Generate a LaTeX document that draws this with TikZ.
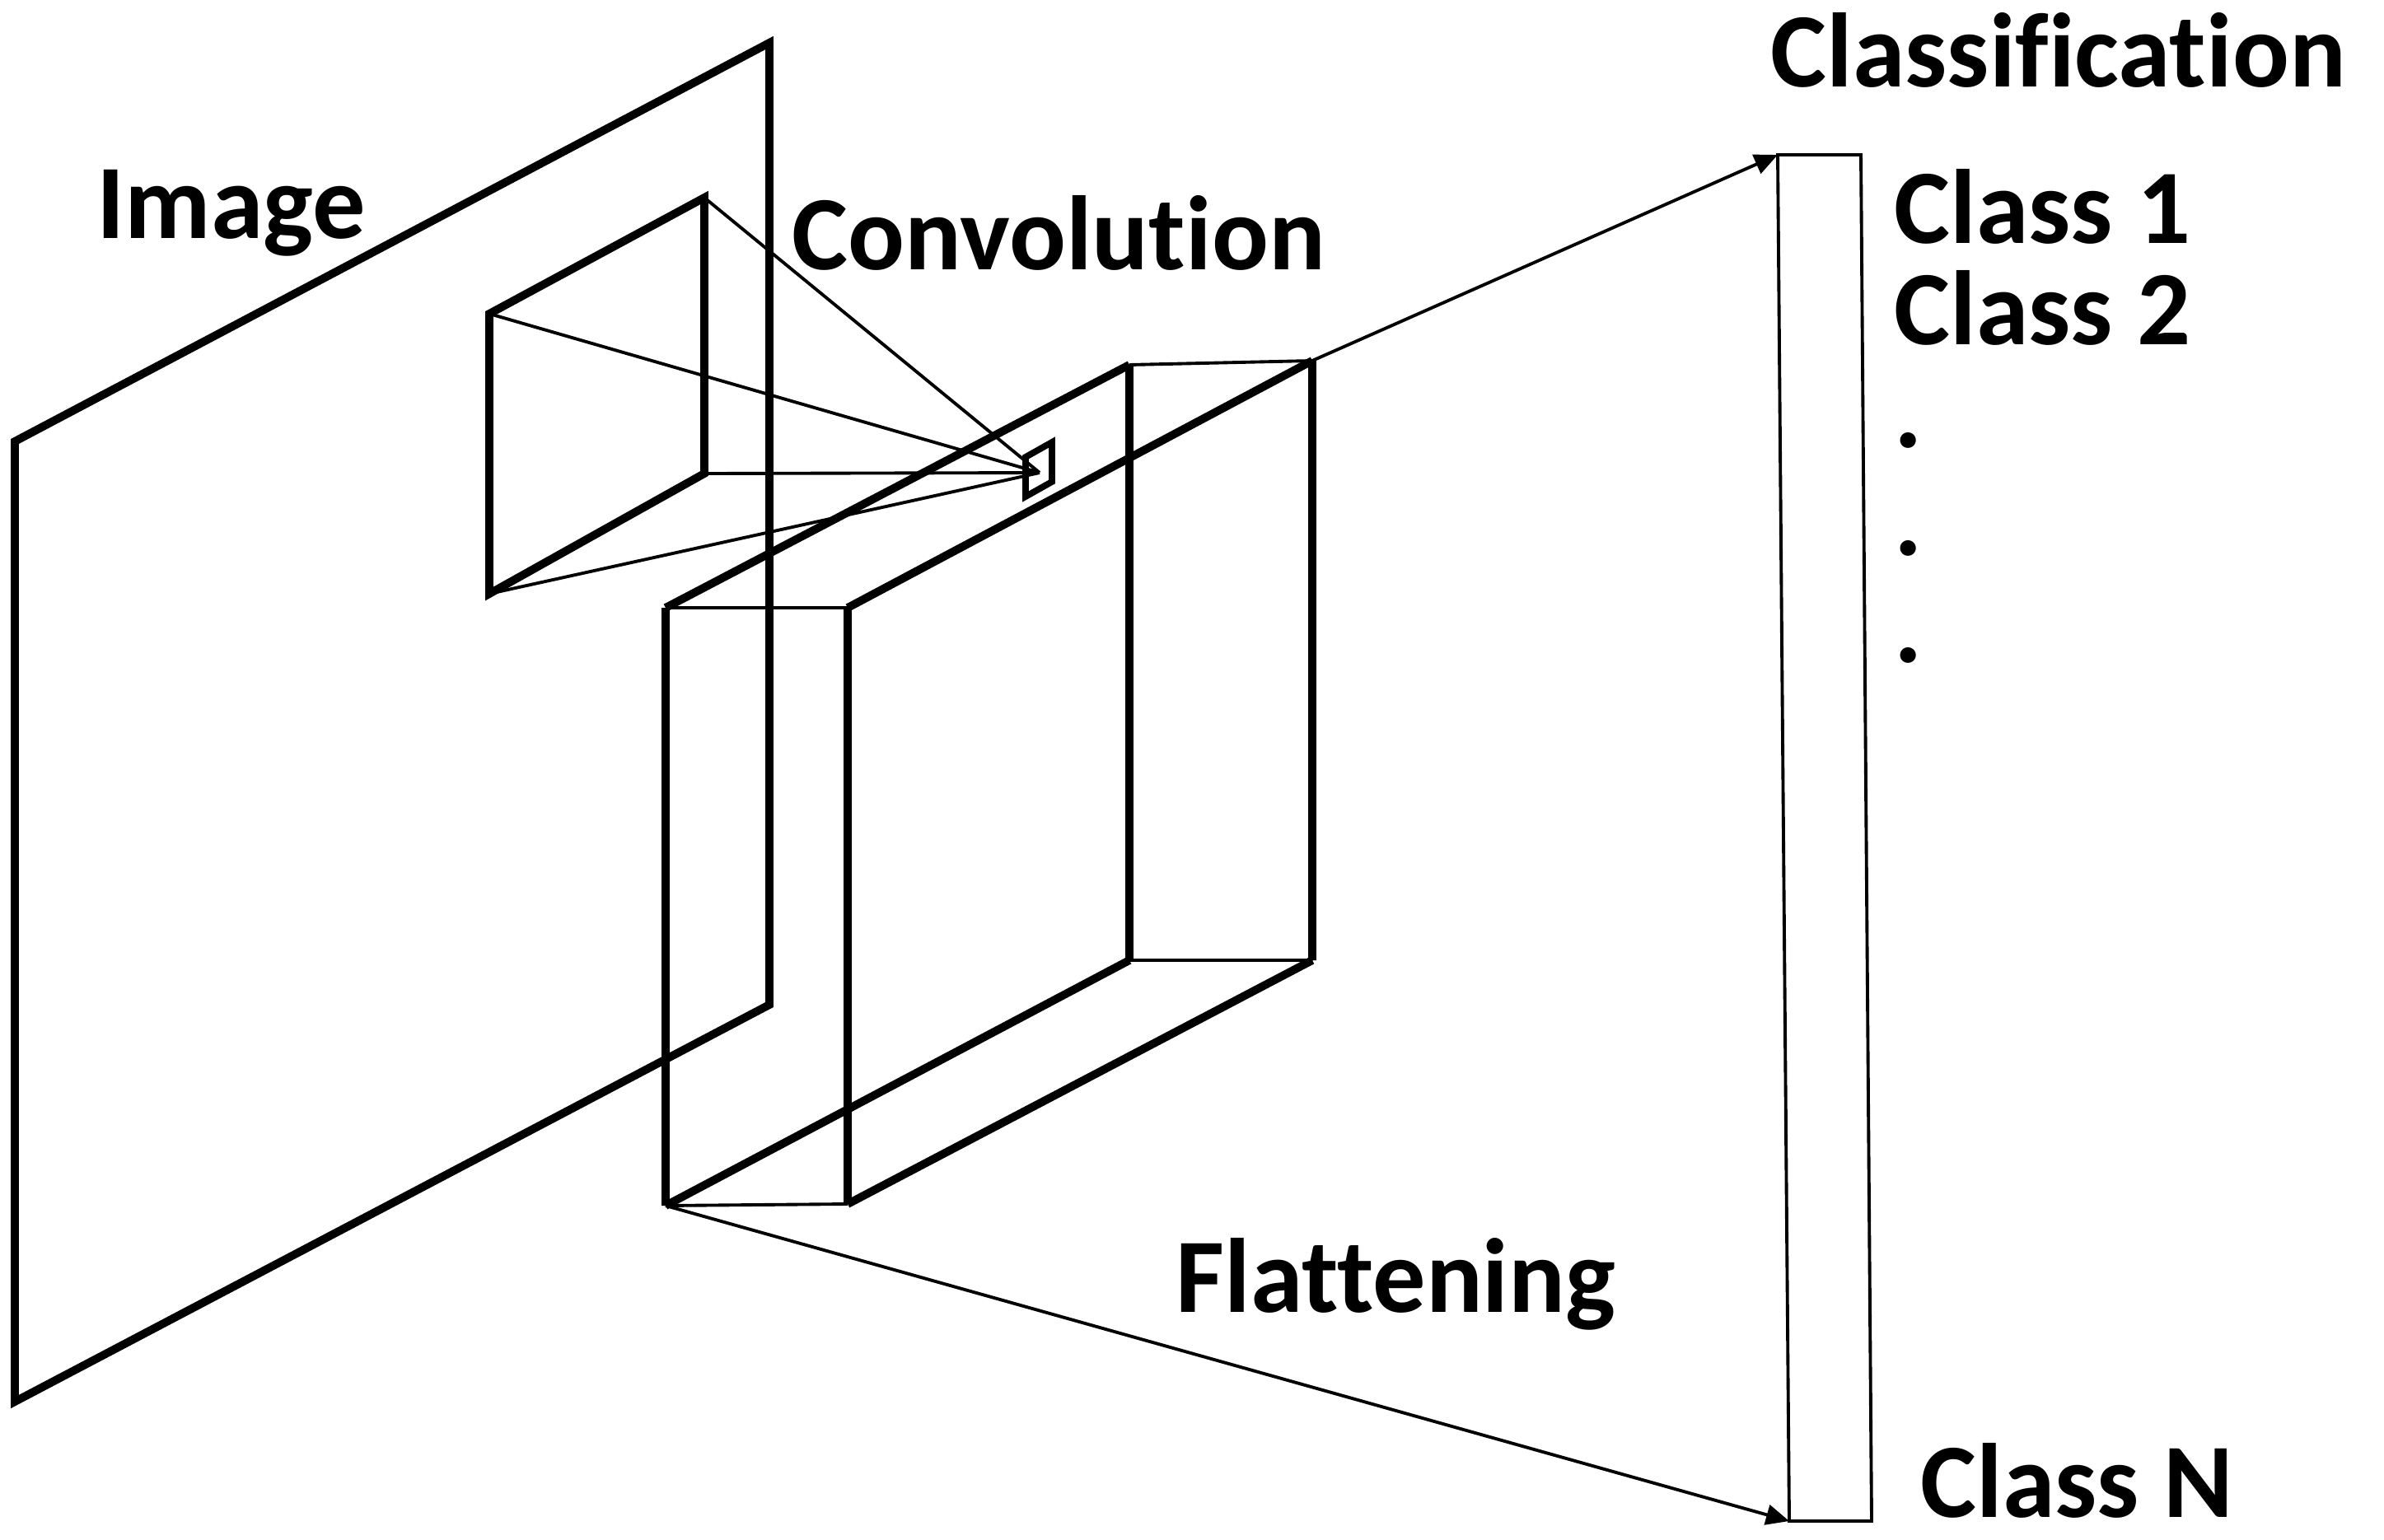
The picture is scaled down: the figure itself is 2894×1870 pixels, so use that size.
\documentclass[tikz,border=0pt]{standalone}
\usepackage{fontspec}
\setmainfont{Carlito}[Ligatures={NoCommon,NoRequired,NoContextual}]
\usetikzlibrary{arrows.meta}
\begin{document}
\begin{tikzpicture}[x=0.01cm,y=-0.01cm,
  thickline/.style={line width=2.8pt, line join=miter},
  thinline/.style={line width=1.1pt},
  sqline/.style={line width=2.2pt},
  lbl/.style={font=\fontsize{36.5}{44}\selectfont\bfseries, anchor=base west, inner sep=0pt},
  flow/.style={line width=1.1pt, -{Triangle[length=8pt,width=7pt]}}]
\path[use as bounding box] (0,0) rectangle (2894,1870);
% image plane
\coordinate (I1) at (18,536);
\coordinate (I2) at (934,52);
\coordinate (I3) at (934,1220);
\coordinate (I4) at (18,1702);
% kernel
\coordinate (K1) at (594,381);
\coordinate (K2) at (855,240);
\coordinate (K3) at (855,575);
\coordinate (K4) at (594,721);
% small square
\coordinate (S1) at (1245,555);
\coordinate (S2) at (1277,537);
\coordinate (S3) at (1277,585);
\coordinate (S4) at (1245,603);
\coordinate (P) at (1262,574);
% feature map box
\coordinate (F1) at (808,738);
\coordinate (F2) at (1029,738);
\coordinate (F3) at (1029,1462);
\coordinate (F4) at (808,1464);
\coordinate (G1) at (1371,443);
\coordinate (G2) at (1593,438);
\coordinate (G3) at (1593,1166);
\coordinate (G4) at (1371,1166);
% classification bar
\coordinate (C1) at (2158,188);
\coordinate (C2) at (2259,188);
\coordinate (C3) at (2272,1847);
\coordinate (C4) at (2172,1847);

\draw[thickline] (I1)--(I2)--(I3)--(I4)--cycle;
\draw[thickline] (K1)--(K2)--(K3)--(K4)--cycle;
\draw[thinline] (K2)--(P) (K1)--(P) (K3)--(P) (K4)--(P);
\draw[sqline] (S1)--(S2)--(S3)--(S4)--cycle;

\draw[thickline] (F1)--(F4) (F2)--(F3) (G1)--(G4) (G2)--(G3)
  (F1)--(G1) (F2)--(G2) (F4)--(G4) (F3)--(G3);
\draw[thinline] (F1)--(F2) (F4)--(F3) (G1)--(G2) (G4)--(G3);

\draw[thinline] (C1)--(C2)--(C3)--(C4)--cycle;
\draw[flow] (G2)--(C1);
\draw[flow] (F4)--(C4);

\node[lbl] (image) at (117,290) {Image};
\node[lbl] (conv) at (961,328) {Convolution};
\node[lbl] (flat) at (1427,1593) {Flattening};
\node[lbl] (cls) at (2149,106) {Classification};
\node[lbl] (c1) at (2299,296) {Class 1};
\node[lbl] (c2) at (2299,419) {Class 2};
\node[lbl] (d1) at (2299,543) {.};
\node[lbl] (d2) at (2299,674) {.};
\node[lbl] (d3) at (2299,804) {.};
\node[lbl] (cN) at (2331,1842) {Class N};
\end{tikzpicture}
\end{document}
